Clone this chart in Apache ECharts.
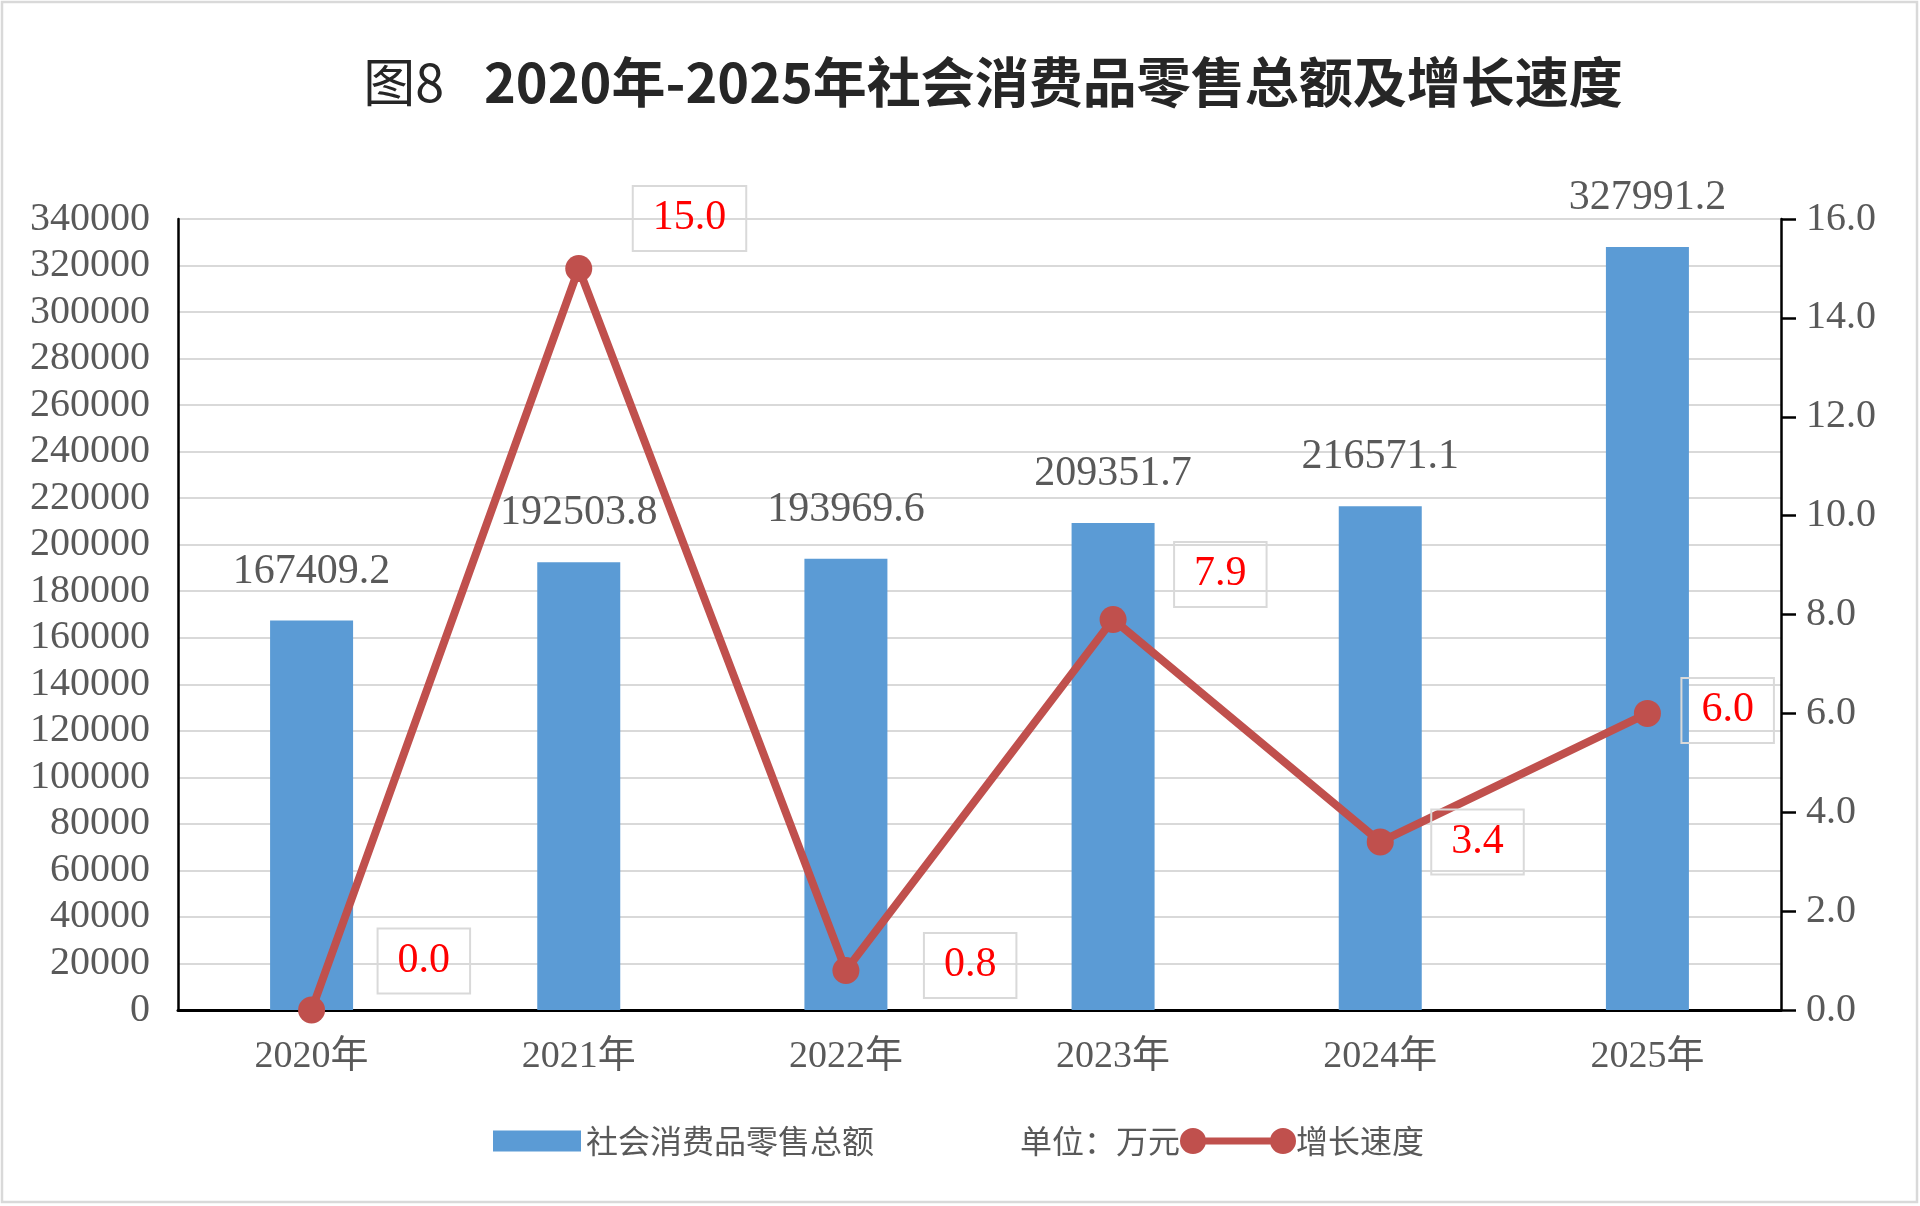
<!DOCTYPE html>
<html>
<head>
<meta charset="utf-8">
<title>图8 2020年-2025年社会消费品零售总额及增长速度</title>
<script src="https://cdn.jsdelivr.net/npm/echarts@6/dist/echarts.min.js"></script>
<style>
    html, body { margin: 0; padding: 0; background: #fff; }
    #chart_8 { width: 1920px; height: 1206px; }
</style>
</head>
<body>
<div id="chart_8"></div>
<script>
var years = ['2020年', '2021年', '2022年', '2023年', '2024年', '2025年'];
var retailSales = [167409.2, 192503.8, 193969.6, 209351.7, 216571.1, 327991.2];
var growthRate = [0.0, 15.0, 0.8, 7.9, 3.4, 6.0];

// 增长速度标签框的位置 (框左边距离点的距离, 上下偏移)
var labelShift = [[66, -49], [54, -50], [78, -5], [61, -45], [51, 0], [34, -3]];

var numFont = "'Liberation Serif', 'DejaVu Serif', 'Noto Sans CJK SC', serif";
var cjkFont = "'Noto Sans CJK SC', sans-serif";

var myChart = echarts.init(document.getElementById('chart_8'));

var growthData = [];
for (var i = 0; i < growthRate.length; i++) {
    growthData.push({
        value: growthRate[i],
        label: {
            offset: [labelShift[i][0] - 13.5, labelShift[i][1]]
        }
    });
}

var option = {
    backgroundColor: '#fff',
    animation: false,
    title: {
        left: 988,
        top: 50,
        textAlign: 'center',
        text: '{a|图8}{b|2020年-2025年社会消费品零售总额及增长速度}',
        textStyle: {
            rich: {
                a: { fontFamily: cjkFont, fontSize: 52, fontWeight: 'normal', color: '#262626', padding: [0, 40, 0, 0] },
                b: { fontFamily: cjkFont, fontSize: 54, fontWeight: 'bold', color: '#262626' }
            }
        }
    },
    graphic: [
        {
            type: 'rect',
            shape: { x: 2, y: 2, width: 1915, height: 1200 },
            style: { fill: 'none', stroke: '#D9D9D9', lineWidth: 2.5 },
            silent: true
        },
        {
            type: 'text',
            left: 1020,
            top: 1125,
            style: {
                text: '单位：万元',
                font: '32px ' + cjkFont,
                fill: '#595959'
            }
        }
    ],
    legend: [
        {
            data: ['社会消费品零售总额'],
            left: 493,
            top: 1125,
            padding: 0,
            icon: 'rect',
            itemWidth: 88,
            itemHeight: 21,
            textStyle: { fontFamily: cjkFont, fontSize: 32, color: '#595959' }
        },
        {
            data: ['增长速度'],
            left: 1180,
            top: 1125,
            padding: 0,
            icon: 'path://M0,13 A13,13 0 1,1 26,13 A13,13 0 1,1 0,13 Z M90,13 A13,13 0 1,1 116,13 A13,13 0 1,1 90,13 Z M13,9.5 L103,9.5 L103,16.5 L13,16.5 Z',
            itemWidth: 116,
            itemHeight: 26,
            textStyle: { fontFamily: cjkFont, fontSize: 32, color: '#595959', padding: [0, 0, 0, -5] }
        }
    ],
    grid: {
        left: 178,
        right: 139,
        top: 219,
        bottom: 196
    },
    xAxis: {
        type: 'category',
        data: years,
        axisLine: { lineStyle: { color: '#000', width: 3 } },
        axisTick: { show: false },
        axisLabel: {
            margin: 28,
            fontFamily: numFont,
            fontSize: 38,
            color: '#595959'
        }
    },
    yAxis: [
        {
            type: 'value',
            min: 0,
            max: 340000,
            interval: 20000,
            axisLine: { show: true, lineStyle: { color: '#000', width: 2.5 } },
            axisTick: { show: false },
            axisLabel: {
                margin: 28,
                fontFamily: numFont,
                fontSize: 40,
                color: '#595959',
                formatter: function (v) { return String(v); }
            },
            splitLine: { lineStyle: { color: '#D9D9D9', width: 2 } }
        },
        {
            type: 'value',
            min: 0,
            max: 16,
            interval: 2,
            position: 'right',
            axisLine: { show: true, lineStyle: { color: '#000', width: 2.5 } },
            axisTick: { show: true, inside: false, length: 15, lineStyle: { color: '#000', width: 2.5 } },
            axisLabel: {
                margin: 25,
                fontFamily: numFont,
                fontSize: 40,
                color: '#595959',
                formatter: function (v) { return v.toFixed(1); }
            },
            splitLine: { show: false }
        }
    ],
    series: [
        {
            name: '社会消费品零售总额',
            type: 'bar',
            barWidth: 83,
            data: retailSales,
            itemStyle: { color: '#5B9BD5' },
            label: {
                show: true,
                position: 'top',
                distance: 28,
                fontFamily: numFont,
                fontSize: 42,
                color: '#595959',
                formatter: function (p) { return p.value.toFixed(1); }
            }
        },
        {
            name: '增长速度',
            type: 'line',
            yAxisIndex: 1,
            z: 5,
            symbol: 'circle',
            symbolSize: 27,
            data: growthData,
            itemStyle: { color: '#C0504D' },
            lineStyle: { color: '#C0504D', width: 8 },
            label: {
                show: true,
                position: 'right',
                distance: 0,
                fontFamily: numFont,
                fontSize: 42,
                lineHeight: 42,
                color: '#FF0000',
                borderColor: '#D9D9D9',
                borderWidth: 2,
                padding: [8, 20, 15, 20],
                formatter: function (p) { return p.value.toFixed(1); }
            }
        }
    ]
};

myChart.setOption(option);
window.addEventListener('resize', function () {
    myChart.resize();
});
</script>
</body>
</html>
